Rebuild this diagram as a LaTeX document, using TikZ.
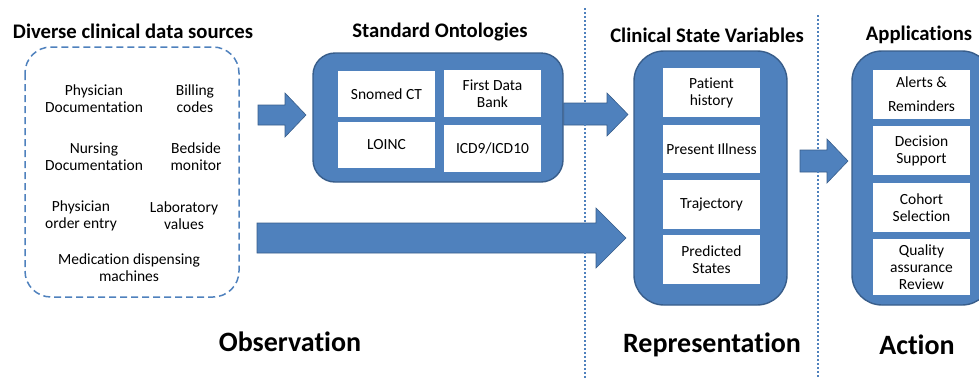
\documentclass[tikz,border=0pt]{standalone}
\usepackage{fontspec}
\setmainfont[Ligatures=NoCommon]{Carlito}
\definecolor{blueA}{HTML}{4F81BD}
\definecolor{blueB}{HTML}{385D8A}
\begin{document}
\begin{tikzpicture}[x=1pt,y=-1pt,
  bigbox/.style={draw=blueB, fill=blueA, line width=1.4pt, inner sep=0pt},
  cell/.style={fill=white, align=center, inner sep=0pt, minimum width=97pt,
    font=\fontsize{15.5}{17}\selectfont},
  src/.style={align=center, inner sep=0pt, font=\fontsize{15.5}{17}\selectfont},
  title/.style={font=\fontsize{20.7}{24}\selectfont\bfseries, inner sep=0pt},
  stage/.style={font=\fontsize{28}{31}\selectfont\bfseries, inner sep=0pt},
  blockarrow/.style={fill=blueA, draw=blueB, line width=0.6pt, line join=miter},
  divider/.style={draw=blueA, line width=2pt, dash pattern=on 2pt off 2pt},
  srcbox/.style={draw=blueA, line width=1.5pt, dash pattern=on 7pt off 4pt, rounded corners=26pt}
]
\useasboundingbox (0,0) rectangle (979,378);

% titles
\node[title] (t1) at (133,31) {Diverse clinical data sources};
\node[title] (t2) at (440,32) {Standard Ontologies};
\node[title] (t3) at (707,35) {Clinical State Variables};
\node[title] (t4) at (919,35) {Applications};

% source box
\draw[srcbox] (25,47) rectangle (239,297);
\node[src] (s1) at (94,99) {Physician\\Documentation};
\node[src] (s2) at (195,99) {Billing\\codes};
\node[src] (s3) at (94,157) {Nursing\\Documentation};
\node[src] (s4) at (196,157) {Bedside\\monitor};
\node[src] (s5) at (81,216) {Physician\\order entry};
\node[src] (s6) at (184,216) {Laboratory\\values};
\node[src] (s7) at (129,268) {Medication dispensing\\machines};

% ontologies
\node[bigbox, rounded corners=22pt, minimum width=250pt, minimum height=129pt] (onto) at (438,117.5) {};
\node[cell, minimum height=46pt] (o1) at (386.5,94) {Snomed CT};
\node[cell, minimum height=47pt] (o2) at (492.5,93.5) {First Data\\Bank};
\node[cell, minimum height=46pt] (o3) at (386.5,145) {LOINC};
\node[cell, minimum height=47pt] (o4) at (492.5,148.5) {ICD9/ICD10};

% clinical state variables
\node[bigbox, rounded corners=30pt, minimum width=153pt, minimum height=254pt] (csv) at (710.5,178) {};
\node[cell, minimum height=49pt] (c1) at (711.5,92.5) {Patient\\history};
\node[cell, minimum height=48pt] (c2) at (711.5,149) {Present Illness};
\node[cell, minimum height=49pt] (c3) at (711.5,204.5) {Trajectory};
\node[cell, minimum height=49pt] (c4) at (711.5,259.5) {Predicted\\States};

% applications
\node[bigbox, rounded corners=30pt, minimum width=140pt, minimum height=254pt] (app) at (922,178) {};
\node[cell, minimum height=49pt, font=\fontsize{15.5}{24}\selectfont] (a1) at (921.5,94.5) {Alerts \&\\Reminders};
\node[cell, minimum height=49pt] (a2) at (921.5,150.5) {Decision\\Support};
\node[cell, minimum height=49pt] (a3) at (921.5,207.5) {Cohort\\Selection};
\node[cell, minimum height=56pt] (a4) at (921.5,267) {Quality\\assurance\\Review};

% block arrows
\draw[blockarrow] (258,105) -- (285,105) -- (285,93) -- (306,115) -- (285,137) -- (285,125) -- (258,125) -- cycle;
\draw[blockarrow] (onto.east |- 0,103) -- (607,103) -- (607,93) -- (628,114.5) -- (607,136) -- (607,125) -- (onto.east |- 0,125) -- cycle;
\draw[blockarrow] (257,223) -- (596,223) -- (596,208) -- (626,238) -- (596,268) -- (596,253) -- (257,253) -- cycle;
\draw[blockarrow] (800,150) -- (827,150) -- (827,139) -- (848,161) -- (827,183) -- (827,172) -- (800,172) -- cycle;

% dividers
\draw[divider] (585,8) -- (585,378);
\draw[divider] (818,15) -- (818,378);

% stage labels
\node[stage] (l1) at (290,342) {Observation};
\node[stage] (l2) at (712,345) {Representation};
\node[stage] (l3) at (917,345) {Action};
\end{tikzpicture}
\end{document}
